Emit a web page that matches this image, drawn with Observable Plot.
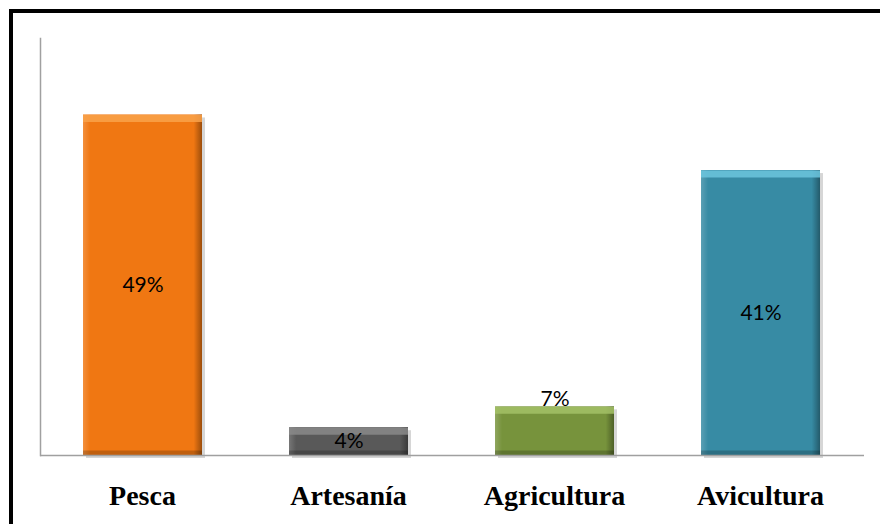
<!DOCTYPE html>
<html>
<head>
<meta charset="utf-8">
<script src="https://cdn.jsdelivr.net/npm/d3@7"></script>
<script src="https://cdn.jsdelivr.net/npm/@observablehq/plot@0.6"></script>
<style>
  html, body { margin: 0; padding: 0; background: #fff; }
  #wrap { position: relative; width: 880px; height: 524px; overflow: hidden; }
  #frame { position: absolute; left: 9px; top: 9px; width: 900px; height: 600px;
           border-left: 4px solid #000; border-top: 4px solid #000; pointer-events: none; }
  #chart { position: absolute; left: 0; top: 0; }
  .serifb { font-family: "Liberation Serif", "Times New Roman", serif; font-weight: bold; }
  .catlabel { position: absolute; transform: translateX(-50%); white-space: nowrap;
              font-size: 28px; line-height: 1; color: #000; }
  #preload { position: absolute; left: 0; top: 0; opacity: 0; font-size: 28px; }
</style>
</head>
<body>
<span id="preload" class="serifb">Agricultura</span>
<div id="wrap"><div id="chart"></div><div id="frame"></div></div>
<script>
const categories = ["Pesca", "Artesanía", "Agricultura", "Avicultura"];
const values = [49, 4, 7, 41];
const labels = ["49%", "4%", "7%", "41%"];
const colors = ["#F07712", "#595959", "#77933C", "#378BA4"];
const highlights = ["#F9A24A", "#8A8A8A", "#A3C166", "#6CC6DE"];
const insideLabel = [true, true, false, true];

const data = categories.map((c, i) => ({
  cat: c, value: values[i], label: labels[i], color: colors[i],
  hi: highlights[i], inside: insideLabel[i]
}));

const chart = Plot.plot({
  width: 880,
  height: 524,
  marginLeft: 40,
  marginRight: 16,
  marginTop: 38,
  marginBottom: 69,
  style: { background: "transparent" },
  x: { domain: categories, paddingInner: 0.42, paddingOuter: 0.21, label: null, axis: null },
  y: { domain: [0, 60], label: null, axis: null },
  marks: [
    // soft shadow
    Plot.barY(data, { x: "cat", y: "value", fill: "#000", fillOpacity: 0.16, dx: 3, dy: 3 }),
    Plot.barY(data, { x: "cat", y: "value", fill: "color" }),
    Plot.barY(data, { x: "cat", y: "value", fill: "url(#hshade)" }),
    // top bevel highlight
    Plot.tickY(data, { x: "cat", y: "value", stroke: "hi", strokeWidth: 7, strokeOpacity: 0.85, dy: 3.5 }),
    // bottom bevel shade
    Plot.tickY(data, { x: "cat", y: 0, stroke: "#000", strokeOpacity: 0.2, strokeWidth: 5, dy: -2.5 }),
    Plot.frame({ anchor: "left", stroke: "#A0A0A0", strokeWidth: 1.5 }),
    Plot.ruleY([0], { stroke: "#A0A0A0", strokeWidth: 1.5 }),
    Plot.text(data.filter(d => d.inside), { x: "cat", y: d => d.value / 2, text: "label",
      fontSize: 21, fontFamily: "Lato", fill: "#000" }),
    Plot.text(data.filter(d => !d.inside), { x: "cat", y: "value", text: "label",
      fontSize: 21, fontFamily: "Lato", fill: "#000", dy: -8 })
  ]
});

// gradient for side bevels
const ns = "http://www.w3.org/2000/svg";
const defs = document.createElementNS(ns, "defs");
defs.innerHTML = `
  <linearGradient id="hshade" x1="0" x2="1" y1="0" y2="0">
    <stop offset="0" stop-color="#fff" stop-opacity="0.18"/>
    <stop offset="0.06" stop-color="#fff" stop-opacity="0"/>
    <stop offset="0.93" stop-color="#000" stop-opacity="0"/>
    <stop offset="1" stop-color="#000" stop-opacity="0.35"/>
  </linearGradient>`;
chart.insertBefore(defs, chart.firstChild);
document.getElementById("chart").appendChild(chart);

// category labels placed with Plot's own x and y scales
const xs = chart.scale("x"), ys = chart.scale("y");
const wrap = document.getElementById("wrap");
categories.forEach(c => {
  const el = document.createElement("div");
  el.className = "catlabel serifb";
  el.textContent = c;
  el.style.left = (xs.apply(c) + xs.bandwidth / 2) + "px";
  el.style.top = (ys.apply(0) + 27) + "px";
  wrap.appendChild(el);
});
</script>
</body>
</html>
